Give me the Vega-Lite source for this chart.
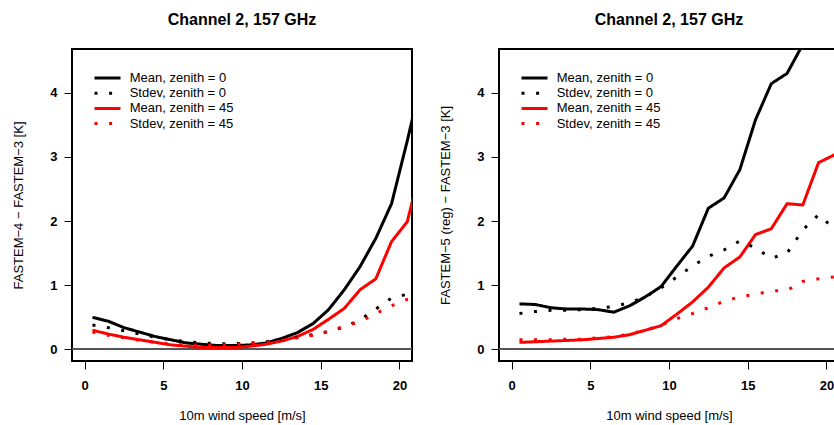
{
  "$schema": "https://vega.github.io/schema/vega-lite/v6.json",
  "padding": {"left": 11, "top": 11, "right": 0, "bottom": 0},
  "spacing": 24,
  "config": {
    "font": "Liberation Sans",
    "view": {"stroke": "black", "strokeWidth": 2},
    "axis": {"grid": false, "domain": false, "tickColor": "black", "tickSize": 8, "tickWidth": 1, "format": "d",
      "labelFont": "Liberation Sans", "labelFontSize": 13, "labelFontWeight": "bold", "labelColor": "black",
      "titleFont": "Liberation Sans", "titleFontSize": 13, "titleFontWeight": "normal", "titleColor": "black"},
    "legend": {"orient": "none", "legendX": 28, "legendY": 21.5, "padding": 0, "title": null,
      "symbolType": "M-2.1667,0H2.1667", "symbolSize": 144, "symbolStrokeWidth": 3,
      "labelFont": "Liberation Sans", "labelFontSize": 13, "labelColor": "black", "labelOffset": 14.7, "rowPadding": 0.2},
    "title": {"font": "Liberation Sans", "fontSize": 16, "fontWeight": "bold", "color": "black"},
    "line": {"strokeJoin": "round", "strokeCap": "butt"}
  },
  "resolve": {"scale": {"color": "independent", "strokeDash": "independent"}, "legend": {"color": "independent", "strokeDash": "independent"}},
  "datasets": {
    "left": [
      {"series": "Mean, zenith = 0", "ws": 0.5, "diff": 0.50}, {"series": "Mean, zenith = 0", "ws": 1.5, "diff": 0.44}, {"series": "Mean, zenith = 0", "ws": 2.5, "diff": 0.34}, {"series": "Mean, zenith = 0", "ws": 3.5, "diff": 0.27}, {"series": "Mean, zenith = 0", "ws": 4.5, "diff": 0.20}, {"series": "Mean, zenith = 0", "ws": 5.5, "diff": 0.15}, {"series": "Mean, zenith = 0", "ws": 6.5, "diff": 0.10}, {"series": "Mean, zenith = 0", "ws": 7.5, "diff": 0.08}, {"series": "Mean, zenith = 0", "ws": 8.5, "diff": 0.06}, {"series": "Mean, zenith = 0", "ws": 9.5, "diff": 0.06}, {"series": "Mean, zenith = 0", "ws": 10.5, "diff": 0.07}, {"series": "Mean, zenith = 0", "ws": 11.5, "diff": 0.10}, {"series": "Mean, zenith = 0", "ws": 12.5, "diff": 0.17}, {"series": "Mean, zenith = 0", "ws": 13.5, "diff": 0.26}, {"series": "Mean, zenith = 0", "ws": 14.5, "diff": 0.40}, {"series": "Mean, zenith = 0", "ws": 15.5, "diff": 0.62}, {"series": "Mean, zenith = 0", "ws": 16.5, "diff": 0.93}, {"series": "Mean, zenith = 0", "ws": 17.5, "diff": 1.29}, {"series": "Mean, zenith = 0", "ws": 18.5, "diff": 1.73}, {"series": "Mean, zenith = 0", "ws": 19.5, "diff": 2.27}, {"series": "Mean, zenith = 0", "ws": 20.5, "diff": 3.25}, {"series": "Mean, zenith = 0", "ws": 21.5, "diff": 4.30},
      {"series": "Mean, zenith = 45", "ws": 0.5, "diff": 0.30}, {"series": "Mean, zenith = 45", "ws": 1.5, "diff": 0.24}, {"series": "Mean, zenith = 45", "ws": 2.5, "diff": 0.19}, {"series": "Mean, zenith = 45", "ws": 3.5, "diff": 0.15}, {"series": "Mean, zenith = 45", "ws": 4.5, "diff": 0.11}, {"series": "Mean, zenith = 45", "ws": 5.5, "diff": 0.07}, {"series": "Mean, zenith = 45", "ws": 6.5, "diff": 0.05}, {"series": "Mean, zenith = 45", "ws": 7.5, "diff": 0.03}, {"series": "Mean, zenith = 45", "ws": 8.5, "diff": 0.03}, {"series": "Mean, zenith = 45", "ws": 9.5, "diff": 0.03}, {"series": "Mean, zenith = 45", "ws": 10.5, "diff": 0.05}, {"series": "Mean, zenith = 45", "ws": 11.5, "diff": 0.08}, {"series": "Mean, zenith = 45", "ws": 12.5, "diff": 0.13}, {"series": "Mean, zenith = 45", "ws": 13.5, "diff": 0.20}, {"series": "Mean, zenith = 45", "ws": 14.5, "diff": 0.31}, {"series": "Mean, zenith = 45", "ws": 15.5, "diff": 0.47}, {"series": "Mean, zenith = 45", "ws": 16.5, "diff": 0.64}, {"series": "Mean, zenith = 45", "ws": 17.5, "diff": 0.93}, {"series": "Mean, zenith = 45", "ws": 18.5, "diff": 1.10}, {"series": "Mean, zenith = 45", "ws": 19.5, "diff": 1.68}, {"series": "Mean, zenith = 45", "ws": 20.5, "diff": 1.99}, {"series": "Mean, zenith = 45", "ws": 21.5, "diff": 2.98},
      {"series": "Stdev, zenith = 0", "ws": 0.5, "diff": 0.38}, {"series": "Stdev, zenith = 0", "ws": 1.5, "diff": 0.34}, {"series": "Stdev, zenith = 0", "ws": 2.5, "diff": 0.29}, {"series": "Stdev, zenith = 0", "ws": 3.5, "diff": 0.24}, {"series": "Stdev, zenith = 0", "ws": 4.5, "diff": 0.19}, {"series": "Stdev, zenith = 0", "ws": 5.5, "diff": 0.15}, {"series": "Stdev, zenith = 0", "ws": 6.5, "diff": 0.12}, {"series": "Stdev, zenith = 0", "ws": 7.5, "diff": 0.10}, {"series": "Stdev, zenith = 0", "ws": 8.5, "diff": 0.09}, {"series": "Stdev, zenith = 0", "ws": 9.5, "diff": 0.09}, {"series": "Stdev, zenith = 0", "ws": 10.5, "diff": 0.10}, {"series": "Stdev, zenith = 0", "ws": 11.5, "diff": 0.12}, {"series": "Stdev, zenith = 0", "ws": 12.5, "diff": 0.15}, {"series": "Stdev, zenith = 0", "ws": 13.5, "diff": 0.19}, {"series": "Stdev, zenith = 0", "ws": 14.5, "diff": 0.23}, {"series": "Stdev, zenith = 0", "ws": 15.5, "diff": 0.28}, {"series": "Stdev, zenith = 0", "ws": 16.5, "diff": 0.35}, {"series": "Stdev, zenith = 0", "ws": 17.5, "diff": 0.46}, {"series": "Stdev, zenith = 0", "ws": 18.5, "diff": 0.63}, {"series": "Stdev, zenith = 0", "ws": 19.5, "diff": 0.80}, {"series": "Stdev, zenith = 0", "ws": 20.5, "diff": 0.86}, {"series": "Stdev, zenith = 0", "ws": 21.5, "diff": 0.66},
      {"series": "Stdev, zenith = 45", "ws": 0.5, "diff": 0.27}, {"series": "Stdev, zenith = 45", "ws": 1.5, "diff": 0.22}, {"series": "Stdev, zenith = 45", "ws": 2.5, "diff": 0.18}, {"series": "Stdev, zenith = 45", "ws": 3.5, "diff": 0.14}, {"series": "Stdev, zenith = 45", "ws": 4.5, "diff": 0.11}, {"series": "Stdev, zenith = 45", "ws": 5.5, "diff": 0.08}, {"series": "Stdev, zenith = 45", "ws": 6.5, "diff": 0.07}, {"series": "Stdev, zenith = 45", "ws": 7.5, "diff": 0.07}, {"series": "Stdev, zenith = 45", "ws": 8.5, "diff": 0.07}, {"series": "Stdev, zenith = 45", "ws": 9.5, "diff": 0.08}, {"series": "Stdev, zenith = 45", "ws": 10.5, "diff": 0.09}, {"series": "Stdev, zenith = 45", "ws": 11.5, "diff": 0.11}, {"series": "Stdev, zenith = 45", "ws": 12.5, "diff": 0.14}, {"series": "Stdev, zenith = 45", "ws": 13.5, "diff": 0.18}, {"series": "Stdev, zenith = 45", "ws": 14.5, "diff": 0.22}, {"series": "Stdev, zenith = 45", "ws": 15.5, "diff": 0.28}, {"series": "Stdev, zenith = 45", "ws": 16.5, "diff": 0.36}, {"series": "Stdev, zenith = 45", "ws": 17.5, "diff": 0.43}, {"series": "Stdev, zenith = 45", "ws": 18.5, "diff": 0.56}, {"series": "Stdev, zenith = 45", "ws": 19.5, "diff": 0.68}, {"series": "Stdev, zenith = 45", "ws": 20.5, "diff": 0.78}, {"series": "Stdev, zenith = 45", "ws": 21.5, "diff": 0.85}
    ],
    "right": [
      {"series": "Mean, zenith = 0", "ws": 0.5, "diff": 0.71}, {"series": "Mean, zenith = 0", "ws": 1.5, "diff": 0.70}, {"series": "Mean, zenith = 0", "ws": 2.5, "diff": 0.65}, {"series": "Mean, zenith = 0", "ws": 3.5, "diff": 0.63}, {"series": "Mean, zenith = 0", "ws": 4.5, "diff": 0.63}, {"series": "Mean, zenith = 0", "ws": 5.5, "diff": 0.62}, {"series": "Mean, zenith = 0", "ws": 6.5, "diff": 0.58}, {"series": "Mean, zenith = 0", "ws": 7.5, "diff": 0.68}, {"series": "Mean, zenith = 0", "ws": 8.5, "diff": 0.82}, {"series": "Mean, zenith = 0", "ws": 9.5, "diff": 0.98}, {"series": "Mean, zenith = 0", "ws": 10.5, "diff": 1.30}, {"series": "Mean, zenith = 0", "ws": 11.5, "diff": 1.61}, {"series": "Mean, zenith = 0", "ws": 12.5, "diff": 2.20}, {"series": "Mean, zenith = 0", "ws": 13.5, "diff": 2.36}, {"series": "Mean, zenith = 0", "ws": 14.5, "diff": 2.80}, {"series": "Mean, zenith = 0", "ws": 15.5, "diff": 3.58}, {"series": "Mean, zenith = 0", "ws": 16.5, "diff": 4.14}, {"series": "Mean, zenith = 0", "ws": 17.5, "diff": 4.30}, {"series": "Mean, zenith = 0", "ws": 18.5, "diff": 4.75}, {"series": "Mean, zenith = 0", "ws": 19.5, "diff": 5.20}, {"series": "Mean, zenith = 0", "ws": 20.5, "diff": 5.50}, {"series": "Mean, zenith = 0", "ws": 21.5, "diff": 5.80},
      {"series": "Mean, zenith = 45", "ws": 0.5, "diff": 0.11}, {"series": "Mean, zenith = 45", "ws": 1.5, "diff": 0.12}, {"series": "Mean, zenith = 45", "ws": 2.5, "diff": 0.13}, {"series": "Mean, zenith = 45", "ws": 3.5, "diff": 0.14}, {"series": "Mean, zenith = 45", "ws": 4.5, "diff": 0.15}, {"series": "Mean, zenith = 45", "ws": 5.5, "diff": 0.17}, {"series": "Mean, zenith = 45", "ws": 6.5, "diff": 0.19}, {"series": "Mean, zenith = 45", "ws": 7.5, "diff": 0.23}, {"series": "Mean, zenith = 45", "ws": 8.5, "diff": 0.30}, {"series": "Mean, zenith = 45", "ws": 9.5, "diff": 0.37}, {"series": "Mean, zenith = 45", "ws": 10.5, "diff": 0.55}, {"series": "Mean, zenith = 45", "ws": 11.5, "diff": 0.74}, {"series": "Mean, zenith = 45", "ws": 12.5, "diff": 0.97}, {"series": "Mean, zenith = 45", "ws": 13.5, "diff": 1.27}, {"series": "Mean, zenith = 45", "ws": 14.5, "diff": 1.44}, {"series": "Mean, zenith = 45", "ws": 15.5, "diff": 1.79}, {"series": "Mean, zenith = 45", "ws": 16.5, "diff": 1.88}, {"series": "Mean, zenith = 45", "ws": 17.5, "diff": 2.27}, {"series": "Mean, zenith = 45", "ws": 18.5, "diff": 2.25}, {"series": "Mean, zenith = 45", "ws": 19.5, "diff": 2.91}, {"series": "Mean, zenith = 45", "ws": 20.5, "diff": 3.03}, {"series": "Mean, zenith = 45", "ws": 21.5, "diff": 3.20},
      {"series": "Stdev, zenith = 0", "ws": 0.5, "diff": 0.56}, {"series": "Stdev, zenith = 0", "ws": 1.5, "diff": 0.59}, {"series": "Stdev, zenith = 0", "ws": 2.5, "diff": 0.61}, {"series": "Stdev, zenith = 0", "ws": 3.5, "diff": 0.61}, {"series": "Stdev, zenith = 0", "ws": 4.5, "diff": 0.62}, {"series": "Stdev, zenith = 0", "ws": 5.5, "diff": 0.64}, {"series": "Stdev, zenith = 0", "ws": 6.5, "diff": 0.67}, {"series": "Stdev, zenith = 0", "ws": 7.5, "diff": 0.73}, {"series": "Stdev, zenith = 0", "ws": 8.5, "diff": 0.82}, {"series": "Stdev, zenith = 0", "ws": 9.5, "diff": 0.96}, {"series": "Stdev, zenith = 0", "ws": 10.5, "diff": 1.13}, {"series": "Stdev, zenith = 0", "ws": 11.5, "diff": 1.30}, {"series": "Stdev, zenith = 0", "ws": 12.5, "diff": 1.45}, {"series": "Stdev, zenith = 0", "ws": 13.5, "diff": 1.55}, {"series": "Stdev, zenith = 0", "ws": 14.5, "diff": 1.69}, {"series": "Stdev, zenith = 0", "ws": 15.5, "diff": 1.58}, {"series": "Stdev, zenith = 0", "ws": 16.5, "diff": 1.42}, {"series": "Stdev, zenith = 0", "ws": 17.5, "diff": 1.50}, {"series": "Stdev, zenith = 0", "ws": 18.5, "diff": 1.86}, {"series": "Stdev, zenith = 0", "ws": 19.5, "diff": 2.10}, {"series": "Stdev, zenith = 0", "ws": 20.5, "diff": 1.88}, {"series": "Stdev, zenith = 0", "ws": 21.5, "diff": 1.85},
      {"series": "Stdev, zenith = 45", "ws": 0.5, "diff": 0.15}, {"series": "Stdev, zenith = 45", "ws": 1.5, "diff": 0.15}, {"series": "Stdev, zenith = 45", "ws": 2.5, "diff": 0.15}, {"series": "Stdev, zenith = 45", "ws": 3.5, "diff": 0.16}, {"series": "Stdev, zenith = 45", "ws": 4.5, "diff": 0.16}, {"series": "Stdev, zenith = 45", "ws": 5.5, "diff": 0.18}, {"series": "Stdev, zenith = 45", "ws": 6.5, "diff": 0.20}, {"series": "Stdev, zenith = 45", "ws": 7.5, "diff": 0.24}, {"series": "Stdev, zenith = 45", "ws": 8.5, "diff": 0.30}, {"series": "Stdev, zenith = 45", "ws": 9.5, "diff": 0.38}, {"series": "Stdev, zenith = 45", "ws": 10.5, "diff": 0.48}, {"series": "Stdev, zenith = 45", "ws": 11.5, "diff": 0.56}, {"series": "Stdev, zenith = 45", "ws": 12.5, "diff": 0.65}, {"series": "Stdev, zenith = 45", "ws": 13.5, "diff": 0.75}, {"series": "Stdev, zenith = 45", "ws": 14.5, "diff": 0.82}, {"series": "Stdev, zenith = 45", "ws": 15.5, "diff": 0.86}, {"series": "Stdev, zenith = 45", "ws": 16.5, "diff": 0.91}, {"series": "Stdev, zenith = 45", "ws": 17.5, "diff": 0.92}, {"series": "Stdev, zenith = 45", "ws": 18.5, "diff": 1.06}, {"series": "Stdev, zenith = 45", "ws": 19.5, "diff": 1.10}, {"series": "Stdev, zenith = 45", "ws": 20.5, "diff": 1.13}, {"series": "Stdev, zenith = 45", "ws": 21.5, "diff": 1.15}
    ]
  },
  "hconcat": [
    {
      "width": 340, "height": 312,
      "title": {"text": "Channel 2, 157 GHz", "anchor": "middle", "offset": 8, "baseline": "alphabetic"},
      "data": {"name": "left"},
      "layer": [
        {"mark": {"type": "rule", "color": "#555", "strokeWidth": 1},
         "encoding": {"y": {"datum": 0, "type": "quantitative", "scale": {"domain": [-0.18, 4.68], "nice": false, "zero": false}}}},
        {"mark": {"type": "line", "clip": true, "strokeWidth": 3},
         "encoding": {
           "x": {"field": "ws", "type": "quantitative", "scale": {"domain": [-0.8, 20.8], "nice": false, "zero": false},
             "axis": {"values": [0, 5, 10, 15, 20], "title": "10m wind speed [m/s]", "labelPadding": 10, "titleY": 58, "titleBaseline": "alphabetic"}},
           "y": {"field": "diff", "type": "quantitative", "scale": {"domain": [-0.18, 4.68], "nice": false, "zero": false},
             "axis": {"values": [0, 1, 2, 3, 4], "title": "FASTEM−4 − FASTEM−3 [K]", "labelPadding": 7, "titleX": -54, "titleY": 156, "titleAngle": -90, "titleBaseline": "middle", "titleAlign": "center"}},
           "color": {"field": "series", "type": "nominal", "scale": {"domain": ["Mean, zenith = 0", "Stdev, zenith = 0", "Mean, zenith = 45", "Stdev, zenith = 45"], "range": ["black", "black", "red", "red"]}},
           "strokeDash": {"field": "series", "type": "nominal", "scale": {"domain": ["Mean, zenith = 0", "Stdev, zenith = 0", "Mean, zenith = 45", "Stdev, zenith = 45"], "range": [[1, 0], [3, 11.6], [1, 0], [3, 11.6]]}}
         }}
      ]
    },
    {
      "width": 340, "height": 312,
      "title": {"text": "Channel 2, 157 GHz", "anchor": "middle", "offset": 8, "baseline": "alphabetic"},
      "data": {"name": "right"},
      "layer": [
        {"mark": {"type": "rule", "color": "#555", "strokeWidth": 1},
         "encoding": {"y": {"datum": 0, "type": "quantitative", "scale": {"domain": [-0.18, 4.68], "nice": false, "zero": false}}}},
        {"mark": {"type": "line", "clip": true, "strokeWidth": 3},
         "encoding": {
           "x": {"field": "ws", "type": "quantitative", "scale": {"domain": [-0.8, 20.8], "nice": false, "zero": false},
             "axis": {"values": [0, 5, 10, 15, 20], "title": "10m wind speed [m/s]", "labelPadding": 10, "titleY": 58, "titleBaseline": "alphabetic"}},
           "y": {"field": "diff", "type": "quantitative", "scale": {"domain": [-0.18, 4.68], "nice": false, "zero": false},
             "axis": {"values": [0, 1, 2, 3, 4], "title": "FASTEM−5 (reg) − FASTEM−3 [K]", "labelPadding": 7, "titleX": -54, "titleY": 156, "titleAngle": -90, "titleBaseline": "middle", "titleAlign": "center"}},
           "color": {"field": "series", "type": "nominal", "scale": {"domain": ["Mean, zenith = 0", "Stdev, zenith = 0", "Mean, zenith = 45", "Stdev, zenith = 45"], "range": ["black", "black", "red", "red"]}},
           "strokeDash": {"field": "series", "type": "nominal", "scale": {"domain": ["Mean, zenith = 0", "Stdev, zenith = 0", "Mean, zenith = 45", "Stdev, zenith = 45"], "range": [[1, 0], [3, 11.6], [1, 0], [3, 11.6]]}}
         }}
      ]
    }
  ]
}
